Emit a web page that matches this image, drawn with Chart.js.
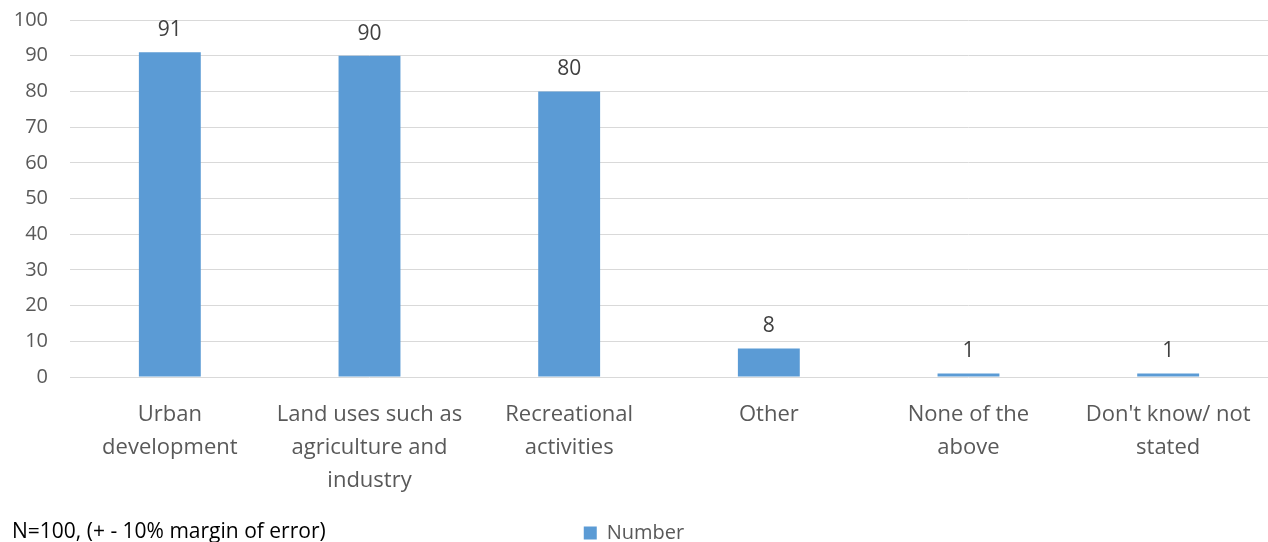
<!DOCTYPE html>
<html>
<head>
<meta charset="utf-8">
<script src="https://cdn.jsdelivr.net/npm/chart.js@4/dist/chart.umd.min.js"></script>
<style>
  html, body { margin: 0; padding: 0; background: #fff; }
  #wrap { width: 1268px; height: 542px; }
</style>
</head>
<body>
<div id="wrap"><canvas id="chart" width="1268" height="542"></canvas></div>
<script>
// Chart data
const categories = [
    ['Urban', 'development'],
    ['Land uses such as', 'agriculture and', 'industry'],
    ['Recreational', 'activities'],
    ['Other'],
    ['None of the', 'above'],
    ["Don't know/ not", 'stated']
];
const numberValues = [91, 90, 80, 8, 1, 1];
const yTicks = { min: 0, max: 100, step: 10 };
const footnote = 'N=100, (+ - 10% margin of error)';

const fontFamily = '"Open Sans", "Noto Sans", sans-serif';

// value labels above each bar
const valueLabels = {
    id: 'valueLabels',
    afterDatasetsDraw(chart) {
        const ctx = chart.ctx;
        const meta = chart.getDatasetMeta(0);
        ctx.save();
        ctx.font = '21px ' + fontFamily;
        ctx.fillStyle = '#404040';
        ctx.textAlign = 'center';
        ctx.textBaseline = 'alphabetic';
        meta.data.forEach((bar, i) => {
            ctx.fillText(String(numberValues[i]), bar.x, bar.y - 16);
        });
        ctx.restore();
    }
};

// footnote in bottom left corner
const footnotePlugin = {
    id: 'footnotePlugin',
    afterDraw(chart) {
        const ctx = chart.ctx;
        ctx.save();
        ctx.font = '21px ' + fontFamily;
        ctx.fillStyle = '#000';
        ctx.textAlign = 'left';
        ctx.textBaseline = 'middle';
        ctx.fillText(footnote, 12, 532);
        ctx.restore();
    }
};

new Chart(document.getElementById('chart').getContext('2d'), {
    type: 'bar',
    data: {
        labels: categories,
        datasets: [{
            label: 'Number',
            data: numberValues,
            backgroundColor: '#5b9bd5',
            borderWidth: 0,
            barPercentage: 0.62,
            categoryPercentage: 0.5
        }]
    },
    options: {
        responsive: false,
        animation: false,
        layout: { padding: { top: 20, right: 0, bottom: -11, left: 0 } },
        plugins: {
            legend: {
                position: 'bottom',
                labels: {
                    boxWidth: 13,
                    boxHeight: 13,
                    padding: 0,
                    color: '#595959',
                    font: { family: fontFamily, size: 20 }
                }
            },
            tooltip: { enabled: false }
        },
        scales: {
            x: {
                grid: { display: false },
                border: { display: false },
                ticks: {
                    color: '#595959',
                    padding: 13,
                    maxRotation: 0,
                    autoSkip: false,
                    font: { family: fontFamily, size: 22, lineHeight: 1.5 }
                },
                afterFit(scale) { scale.height = 146; }
            },
            y: {
                min: yTicks.min,
                max: yTicks.max,
                grid: { color: '#d9d9d9', lineWidth: 1, drawTicks: false },
                border: { display: false },
                ticks: {
                    stepSize: yTicks.step,
                    color: '#595959',
                    padding: 22,
                    font: { family: fontFamily, size: 20 }
                },
                afterFit(scale) {
                    scale.width = 70;
                    scale.paddingTop = 0;
                    scale.paddingBottom = 0;
                }
            }
        }
    },
    plugins: [valueLabels, footnotePlugin]
});
</script>
</body>
</html>
